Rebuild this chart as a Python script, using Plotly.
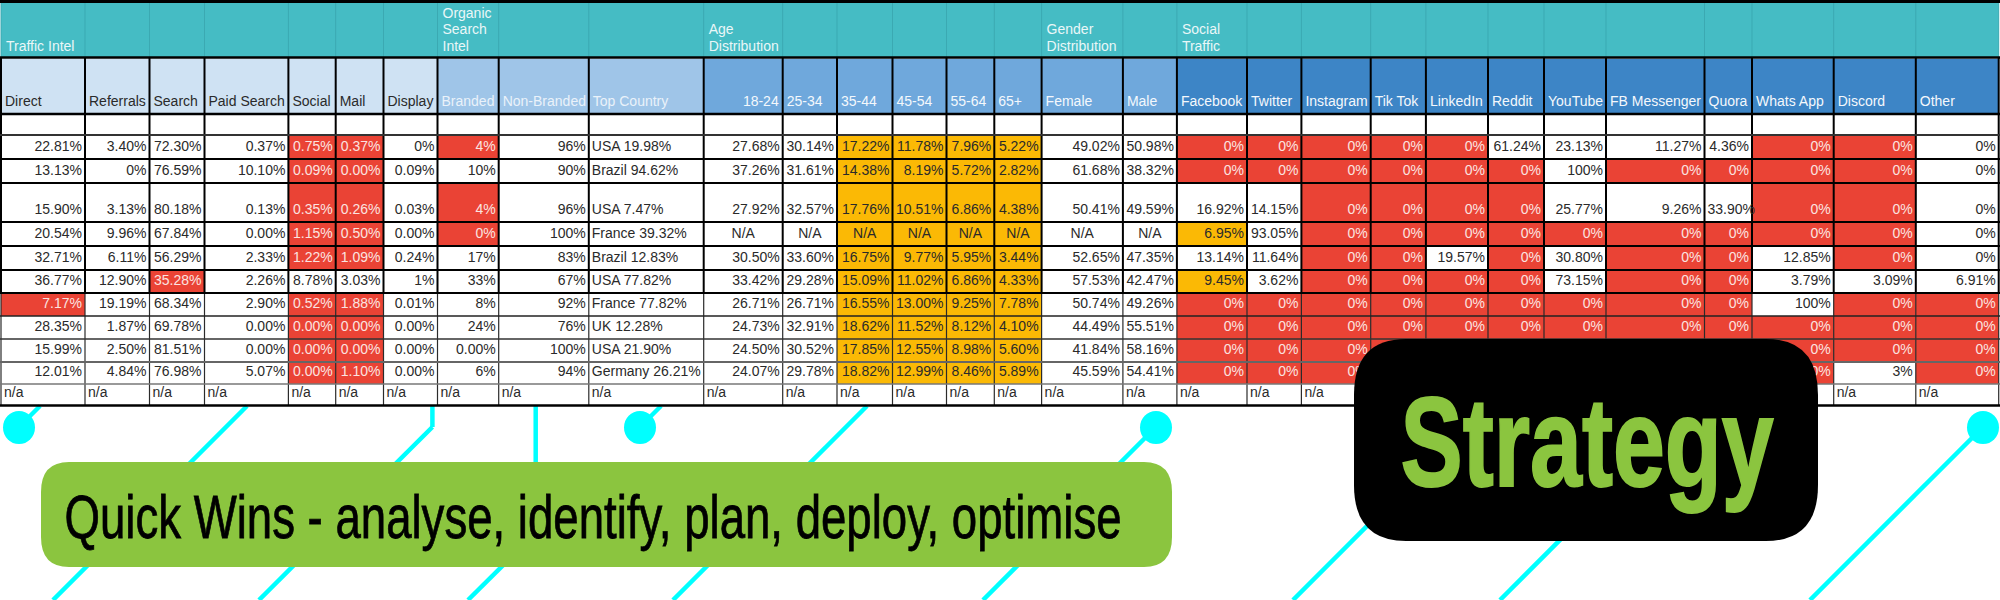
import plotly.graph_objects as go

columns = ["Direct","Referrals","Search","Paid Search","Social","Mail","Display","Branded","Non-Branded","Top Country",
           "18-24","25-34","35-44","45-54","55-64","65+","Female","Male","Facebook","Twitter","Instagram","Tik Tok",
           "LinkedIn","Reddit","YouTube","FB Messenger","Quora","Whats App","Discord","Other"]
groups = {"Traffic Intel":0,"Organic<br>Search<br>Intel":7,"Age<br>Distribution":10,"Gender<br>Distribution":16,"Social<br>Traffic":18}

# "-" marks a cell that the Strategy box covers in the source picture
row_01 = "22.81% 3.40% 72.30% 0.37% 0.75% 0.37% 0% 4% 96% USA_19.98% 27.68% 30.14% 17.22% 11.78% 7.96% 5.22% 49.02% 50.98% 0% 0% 0% 0% 0% 61.24% 23.13% 11.27% 4.36% 0% 0% 0%".split()
row_02 = "13.13% 0% 76.59% 10.10% 0.09% 0.00% 0.09% 10% 90% Brazil_94.62% 37.26% 31.61% 14.38% 8.19% 5.72% 2.82% 61.68% 38.32% 0% 0% 0% 0% 0% 0% 100% 0% 0% 0% 0% 0%".split()
row_03 = "15.90% 3.13% 80.18% 0.13% 0.35% 0.26% 0.03% 4% 96% USA_7.47% 27.92% 32.57% 17.76% 10.51% 6.86% 4.38% 50.41% 49.59% 16.92% 14.15% 0% 0% 0% 0% 25.77% 9.26% 33.90% 0% 0% 0%".split()
row_04 = "20.54% 9.96% 67.84% 0.00% 1.15% 0.50% 0.00% 0% 100% France_39.32% N/A N/A N/A N/A N/A N/A N/A N/A 6.95% 93.05% 0% 0% 0% 0% 0% 0% 0% 0% 0% 0%".split()
row_05 = "32.71% 6.11% 56.29% 2.33% 1.22% 1.09% 0.24% 17% 83% Brazil_12.83% 30.50% 33.60% 16.75% 9.77% 5.95% 3.44% 52.65% 47.35% 13.14% 11.64% 0% 0% 19.57% 0% 30.80% 0% 0% 12.85% 0% 0%".split()
row_06 = "36.77% 12.90% 35.28% 2.26% 8.78% 3.03% 1% 33% 67% USA_77.82% 33.42% 29.28% 15.09% 11.02% 6.86% 4.33% 57.53% 42.47% 9.45% 3.62% 0% 0% 0% 0% 73.15% 0% 0% 3.79% 3.09% 6.91%".split()
row_07 = "7.17% 19.19% 68.34% 2.90% 0.52% 1.88% 0.01% 8% 92% France_77.82% 26.71% 26.71% 16.55% 13.00% 9.25% 7.78% 50.74% 49.26% 0% 0% 0% 0% 0% 0% 0% 0% 0% 100% 0% 0%".split()
row_08 = "28.35% 1.87% 69.78% 0.00% 0.00% 0.00% 0.00% 24% 76% UK_12.28% 24.73% 32.91% 18.62% 11.52% 8.12% 4.10% 44.49% 55.51% 0% 0% 0% 0% 0% 0% 0% 0% 0% 0% 0% 0%".split()
row_09 = "15.99% 2.50% 81.51% 0.00% 0.00% 0.00% 0.00% 0.00% 100% USA_21.90% 24.50% 30.52% 17.85% 12.55% 8.98% 5.60% 41.84% 58.16% 0% 0% 0% - - - - - - 0% 0% 0%".split()
row_10 = "12.01% 4.84% 76.98% 5.07% 0.00% 1.10% 0.00% 6% 94% Germany_26.21% 24.07% 29.78% 18.82% 12.99% 8.46% 5.89% 45.59% 54.41% 0% 0% 0% - - - - - - 0% 3% 0%".split()
row_11 = ["n/a"]*21 + ["-"]*7 + ["n/a"]*2
rows = [row_01,row_02,row_03,row_04,row_05,row_06,row_07,row_08,row_09,row_10,row_11]

# cell status: r = red, a = amber, . = none
status = ["....rr.r....aaaa..rrrrr....rr.",
          "....rr......aaaa..rrrrrr.rrrr.",
          "....rr.r....aaaa....rrrr...rr.",
          "....rr.r....aaaa..a.rrrrrrrrr.",
          "....rr......aaaa....rr.r.rr.r.",
          "..r.........aaaa..a.rrrr.rr...",
          "r...rr......aaaa..rrrrrrrrr.rr",
          "....rr......aaaa..rrrrrrrrrrrr",
          "....rr......aaaa..rrrrrrrrrrrr",
          "....rr......aaaa..rrrrrrrrrr.r",
          "."*30]

# page geometry
col_edges = [1,85,149.5,204.5,288.4,335.7,383.5,437.5,498.7,588.8,703.7,782.7,837,892.5,946.5,994.3,1041.6,1122.9,1176.9,1247,
             1301.4,1370.7,1425.9,1488,1544,1606,1704.5,1752,1833.7,1915.8,1998.7]
row_edges = [135,159,183,222,246,270,293,316,339,362,384,405]
TEAL="#45BCC4"; RED="#EA4335"; AMBER="#FBB905"; GREEN="#8BC53F"; CYAN="#00FFFF"
header_fill = ["#CFE2F3"]*7+["#9FC5E8"]*3+["#6FA8DC"]*8+["#3D85C6"]*12
header_text = ["#2a2a2a"]*7+["#EAF2FA"]*3+["#F4F8FC"]*8+["#F4F8FC"]*12

shapes=[]
def rect(x0,y0,x1,y1,fill,layer="below"):
    shapes.append(dict(type="rect",x0=x0,x1=x1,y0=y0,y1=y1,fillcolor=fill,line_width=0,layer=layer))
def line(x0,y0,x1,y1,color,w):
    shapes.append(dict(type="line",x0=x0,x1=x1,y0=y0,y1=y1,line=dict(color=color,width=w),layer="below"))

# cyan connector lines
for pts in [[(247,406),(53,600)],[(19,427),(40,406)],[(432.4,406),(432.4,427),(259,600)],[(535.7,406),(535.7,533),(468,600)],
            [(867,406),(673,600)],[(640,427),(661,406)],[(1156,427),(983,600)],[(1487,406),(1293,600)],
            [(1694,406),(1500,600)],[(1983,427),(1810,600)]]:
    for a,b in zip(pts,pts[1:]):
        line(a[0],a[1],b[0],b[1],CYAN,4.5)
for cx in [19,640,1156,1983]:
    shapes.append(dict(type="circle",x0=cx-16,x1=cx+16,y0=411,y1=444,fillcolor=CYAN,line_width=0,layer="below"))

# table fills
rect(0,0,2000,3,"#000000")
rect(col_edges[0],3,col_edges[-1],57,TEAL)
for i,f in enumerate(header_fill):
    rect(col_edges[i],59,col_edges[i+1],113,f)
for r,s in enumerate(status):
    for c,ch in enumerate(s):
        if ch!=".":
            rect(col_edges[c],row_edges[r],col_edges[c+1],row_edges[r+1],RED if ch=="r" else AMBER)

# grid
for x in col_edges:
    line(x,3,x,57,"#3BA9B2",1)
    line(x,57,x,293,"#000000",2)
    line(x,293,x,405,"#2b2b2b",1.2)
line(0,57.5,2000,57.5,"#000000",2.5)
line(0,114,2000,114,"#000000",2.5)
for y,c,w in zip(row_edges[:-1],["#333333"]+["#000000"]*6+["#222222","#333333","#666666","#777777"],[2]*7+[1.5,1.5,2,1.5]):
    line(0,y,2000,y,c,w)
line(0,405.5,2000,405.5,"#000000",2.5)

# text
tx,ty,tt,tp,tc=[],[],[],[],[]
for i,name in enumerate(columns):
    if name=="18-24":
        tx.append(col_edges[i+1]-4); tp.append("middle left")
    else:
        tx.append(col_edges[i]+4); tp.append("middle right")
    ty.append(102); tt.append(name); tc.append(header_text[i])
for label,i in groups.items():
    parts=label.split("<br>")
    for k,p in enumerate(parts):
        tx.append(col_edges[i]+5); ty.append(47-16.5*(len(parts)-1-k)); tt.append(p); tp.append("middle right"); tc.append("#EAF7F8")
for r,vals in enumerate(rows):
    yc=row_edges[r+1]-11.5
    for c,v in enumerate(vals):
        if v=="-":
            continue
        v=v.replace("_"," ")
        st=status[r][c]
        if v=="n/a" or c==9 or (r==2 and c==26):
            tx.append(col_edges[c]+3); tp.append("middle right")
        elif v=="N/A":
            tx.append((col_edges[c]+col_edges[c+1])/2); tp.append("middle center")
        else:
            tx.append(col_edges[c+1]-3); tp.append("middle left")
        ty.append(yc); tt.append(v)
        tc.append("#FBE3E0" if st=="r" else "#2a2a2a")

fig=go.Figure(go.Scatter(x=tx,y=ty,text=tt,mode="text",textposition=tp,cliponaxis=False,
    textfont=dict(family="Liberation Sans",size=14,color=tc),hoverinfo="skip"))

# call-out boxes
def rrect(x0,y0,x1,y1,rx,ry,fill):
    p=f"M{x0+rx},{y0} L{x1-rx},{y0} Q{x1},{y0} {x1},{y0+ry} L{x1},{y1-ry} Q{x1},{y1} {x1-rx},{y1} L{x0+rx},{y1} Q{x0},{y1} {x0},{y1-ry} L{x0},{y0+ry} Q{x0},{y0} {x0+rx},{y0} Z"
    shapes.append(dict(type="path",path=p,fillcolor=fill,line_width=0,layer="above"))
rrect(41,462,1172,567,28,30,GREEN)
rrect(1354,339,1818,541,52,56,"#000000")

fig.update_layout(width=2000,height=600,margin=dict(l=0,r=0,t=0,b=0),autosize=False,
    paper_bgcolor="white",plot_bgcolor="white",showlegend=False,shapes=shapes,
    xaxis=dict(range=[0,2000],visible=False,fixedrange=True),
    yaxis=dict(range=[600,0],visible=False,fixedrange=True),
    annotations=[
      dict(x=592.5,y=516.5,xref="x",yref="y",text="Quick Wins - analyse, identify, plan, deploy, optimise",showarrow=False,xanchor="center",yanchor="middle",
           font=dict(family="Liberation Sans",size=62,color="#000000")),
      dict(x=1586.5,y=442.5,xref="x",yref="y",text="Strategy",showarrow=False,xanchor="center",yanchor="middle",
           font=dict(family="Liberation Sans",size=126,weight="bold",color=GREEN)),
    ])
post = """
document.body.style.margin='0';
var lens={'Quick Wins':1057,'Strategy':373};
document.querySelectorAll('.annotation-text').forEach(function(t){
  for(var k in lens){ if(t.textContent.indexOf(k)===0){
    t.setAttribute('textLength',lens[k]); t.setAttribute('lengthAdjust','spacingAndGlyphs');
    if(k==='Strategy'){ t.style.stroke='#8BC53F'; t.style.strokeWidth='2px'; }
    else { t.style.stroke='#000'; t.style.strokeWidth='0.8px'; }
  }}
});
"""
fig.write_html("out.html",config=dict(displayModeBar=False),post_script=post)
